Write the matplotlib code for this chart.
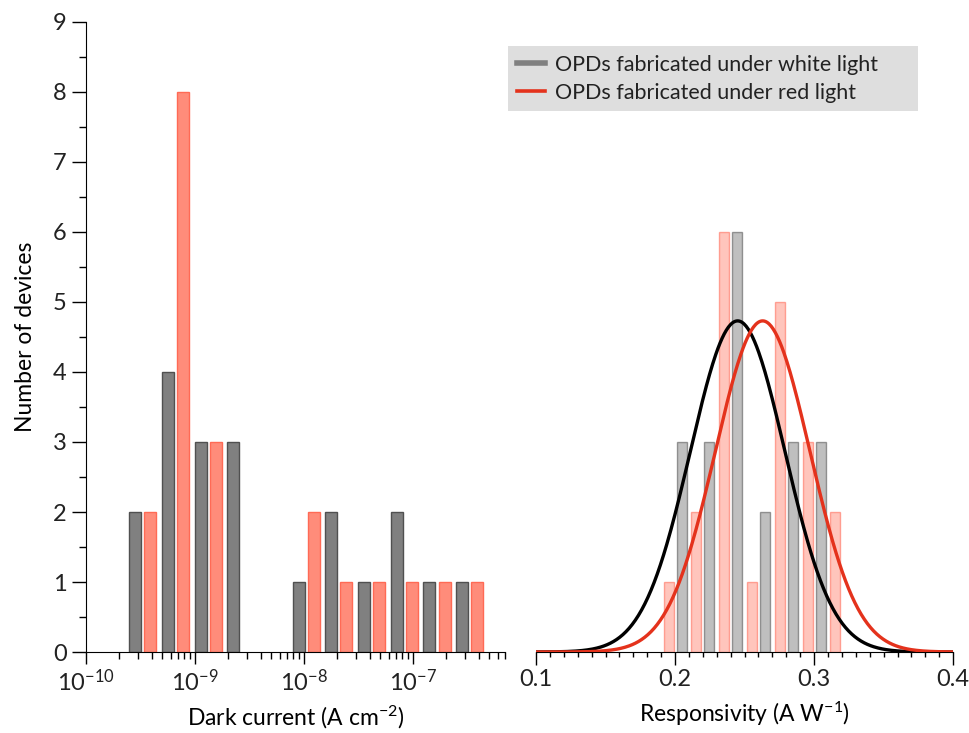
import numpy as np
import matplotlib
matplotlib.use("Agg")
import matplotlib.pyplot as plt
import matplotlib.ticker as ticker

plt.rcParams["font.family"] = ["Lato", "DejaVu Sans"]
plt.rcParams["mathtext.fontset"] = "custom"
plt.rcParams["mathtext.rm"] = "Lato"
plt.rcParams["mathtext.default"] = "regular"
plt.rcParams["text.color"] = "#222222"
plt.rcParams["xtick.labelcolor"] = "#222222"
plt.rcParams["ytick.labelcolor"] = "#222222"

# --- dark current histogram (log10 bin centres, counts) ---
dc_log_centres = [-9.48, -9.18, -8.88, -8.58, -8.28, -7.98, -7.68, -7.38, -7.08, -6.78, -6.48]
dc_white = [2, 4, 3, 3, 0, 1, 2, 1, 2, 1, 1]
dc_red = [2, 8, 3, 0, 0, 2, 1, 1, 1, 1, 1]
dc_ticks = [1e-10, 1e-9, 1e-8, 1e-7]

# --- responsivity histogram (bin centres, counts) ---
resp_centres = [0.20, 0.22, 0.24, 0.26, 0.28, 0.30, 0.32]
resp_white = [3, 3, 6, 2, 3, 3, 0]
resp_red = [1, 2, 6, 1, 5, 3, 2]

# gaussian fits (mean, sigma, peak height)
fit_white = (0.245, 0.034, 4.73)
fit_red = (0.263, 0.034, 4.73)

GRAY = "#808080"
SALMON = "#ff8c7a"
RED = "#e4321c"

fig = plt.figure(figsize=(9.69, 7.33), dpi=100)
ax1 = fig.add_axes([0.0888, 0.1105, 0.4325, 0.8595])
ax2 = fig.add_axes([0.5532, 0.1105, 0.4304, 0.8595])

# left panel: grouped bars on a log axis
w = 0.11
gap = 0.014
c = np.array(dc_log_centres)
left_w = 10 ** (c - gap - w)
right_w = 10 ** (c - gap)
left_r = 10 ** (c + gap)
right_r = 10 ** (c + gap + w)
mw = np.array(dc_white) > 0
mr = np.array(dc_red) > 0
ax1.bar(left_w[mw], np.array(dc_white)[mw], width=(right_w - left_w)[mw], align="edge",
        color=GRAY, edgecolor="#505050", linewidth=1.0, zorder=2)
ax1.bar(left_r[mr], np.array(dc_red)[mr], width=(right_r - left_r)[mr], align="edge",
        color=SALMON, edgecolor="#ff6a55", linewidth=1.0, zorder=2)
ax1.set_xscale("log")
ax1.set_xlim(1e-10, 7e-7)
ax1.set_ylim(0, 9)
ax1.xaxis.set_major_locator(ticker.FixedLocator(dc_ticks))
ax1.xaxis.set_major_formatter(ticker.LogFormatterSciNotation())
ax1.xaxis.set_minor_locator(ticker.LogLocator(base=10, subs=np.arange(2, 10), numticks=20))
ax1.yaxis.set_major_locator(ticker.MultipleLocator(1))
ax1.yaxis.set_minor_locator(ticker.MultipleLocator(0.5))
ax1.spines["top"].set_visible(False)
ax1.spines["right"].set_visible(False)
ax1.tick_params(axis="x", which="major", length=8.5, width=1, pad=3, labelsize=17)
ax1.tick_params(axis="x", which="minor", length=5, width=1)
ax1.tick_params(axis="y", which="major", length=10, width=1, pad=4, labelsize=17)
ax1.tick_params(axis="y", which="minor", length=5, width=1)
ax1.set_xlabel("Dark current (A cm$^{-2}$)", fontsize=16.5, labelpad=7)
ax1.set_ylabel("Number of devices", fontsize=16.5, labelpad=12)

# right panel: responsivity
bw = 0.0072
off = 0.0047
rc = np.array(resp_centres)
ax2.bar(rc + off, resp_white, width=bw, color=GRAY, alpha=0.5,
        edgecolor="#404040", linewidth=1.0, zorder=2)
ax2.bar(rc - off, resp_red, width=bw, color=SALMON, alpha=0.5,
        edgecolor="#ff5a45", linewidth=1.0, zorder=2)
xs = np.linspace(0.1, 0.4, 400)
for (mu, sig, amp), col in [(fit_white, "black"), (fit_red, RED)]:
    ax2.plot(xs, amp * np.exp(-(xs - mu) ** 2 / (2 * sig ** 2)), color=col, lw=2.4, zorder=3)
ax2.set_xlim(0.1, 0.4)
ax2.set_ylim(0, 9)
ax2.xaxis.set_major_locator(ticker.MultipleLocator(0.1))
ax2.xaxis.set_minor_locator(ticker.MultipleLocator(0.01))
ax2.xaxis.set_major_formatter(ticker.FormatStrFormatter("%.1f"))
for sp in ["top", "right", "left"]:
    ax2.spines[sp].set_visible(False)
ax2.set_yticks([])
ax2.tick_params(axis="x", which="major", length=9, width=1, pad=3, labelsize=17)
ax2.tick_params(axis="x", which="minor", length=3.5, width=1)
ax2.set_xlabel("Responsivity (A W$^{-1}$)", fontsize=16.5, labelpad=7)

# legend spanning across the gap between panels
h1, = ax2.plot([], [], color=GRAY, lw=4)
h2, = ax2.plot([], [], color=RED, lw=2.6)
leg = fig.legend([h1, h2], ["OPDs fabricated under white light", "OPDs fabricated under red light"],
                 loc="upper left", mode="expand",
                 bbox_to_anchor=(508 / 969, 1 - 111 / 733, 410 / 969, 65 / 733),
                 borderaxespad=0, fancybox=False, framealpha=1, facecolor="#dedede",
                 edgecolor="none", fontsize=15.5, handlelength=1.3, handletextpad=0.5,
                 labelspacing=0.38, borderpad=0.4)

fig.savefig("out.png", dpi=100)
